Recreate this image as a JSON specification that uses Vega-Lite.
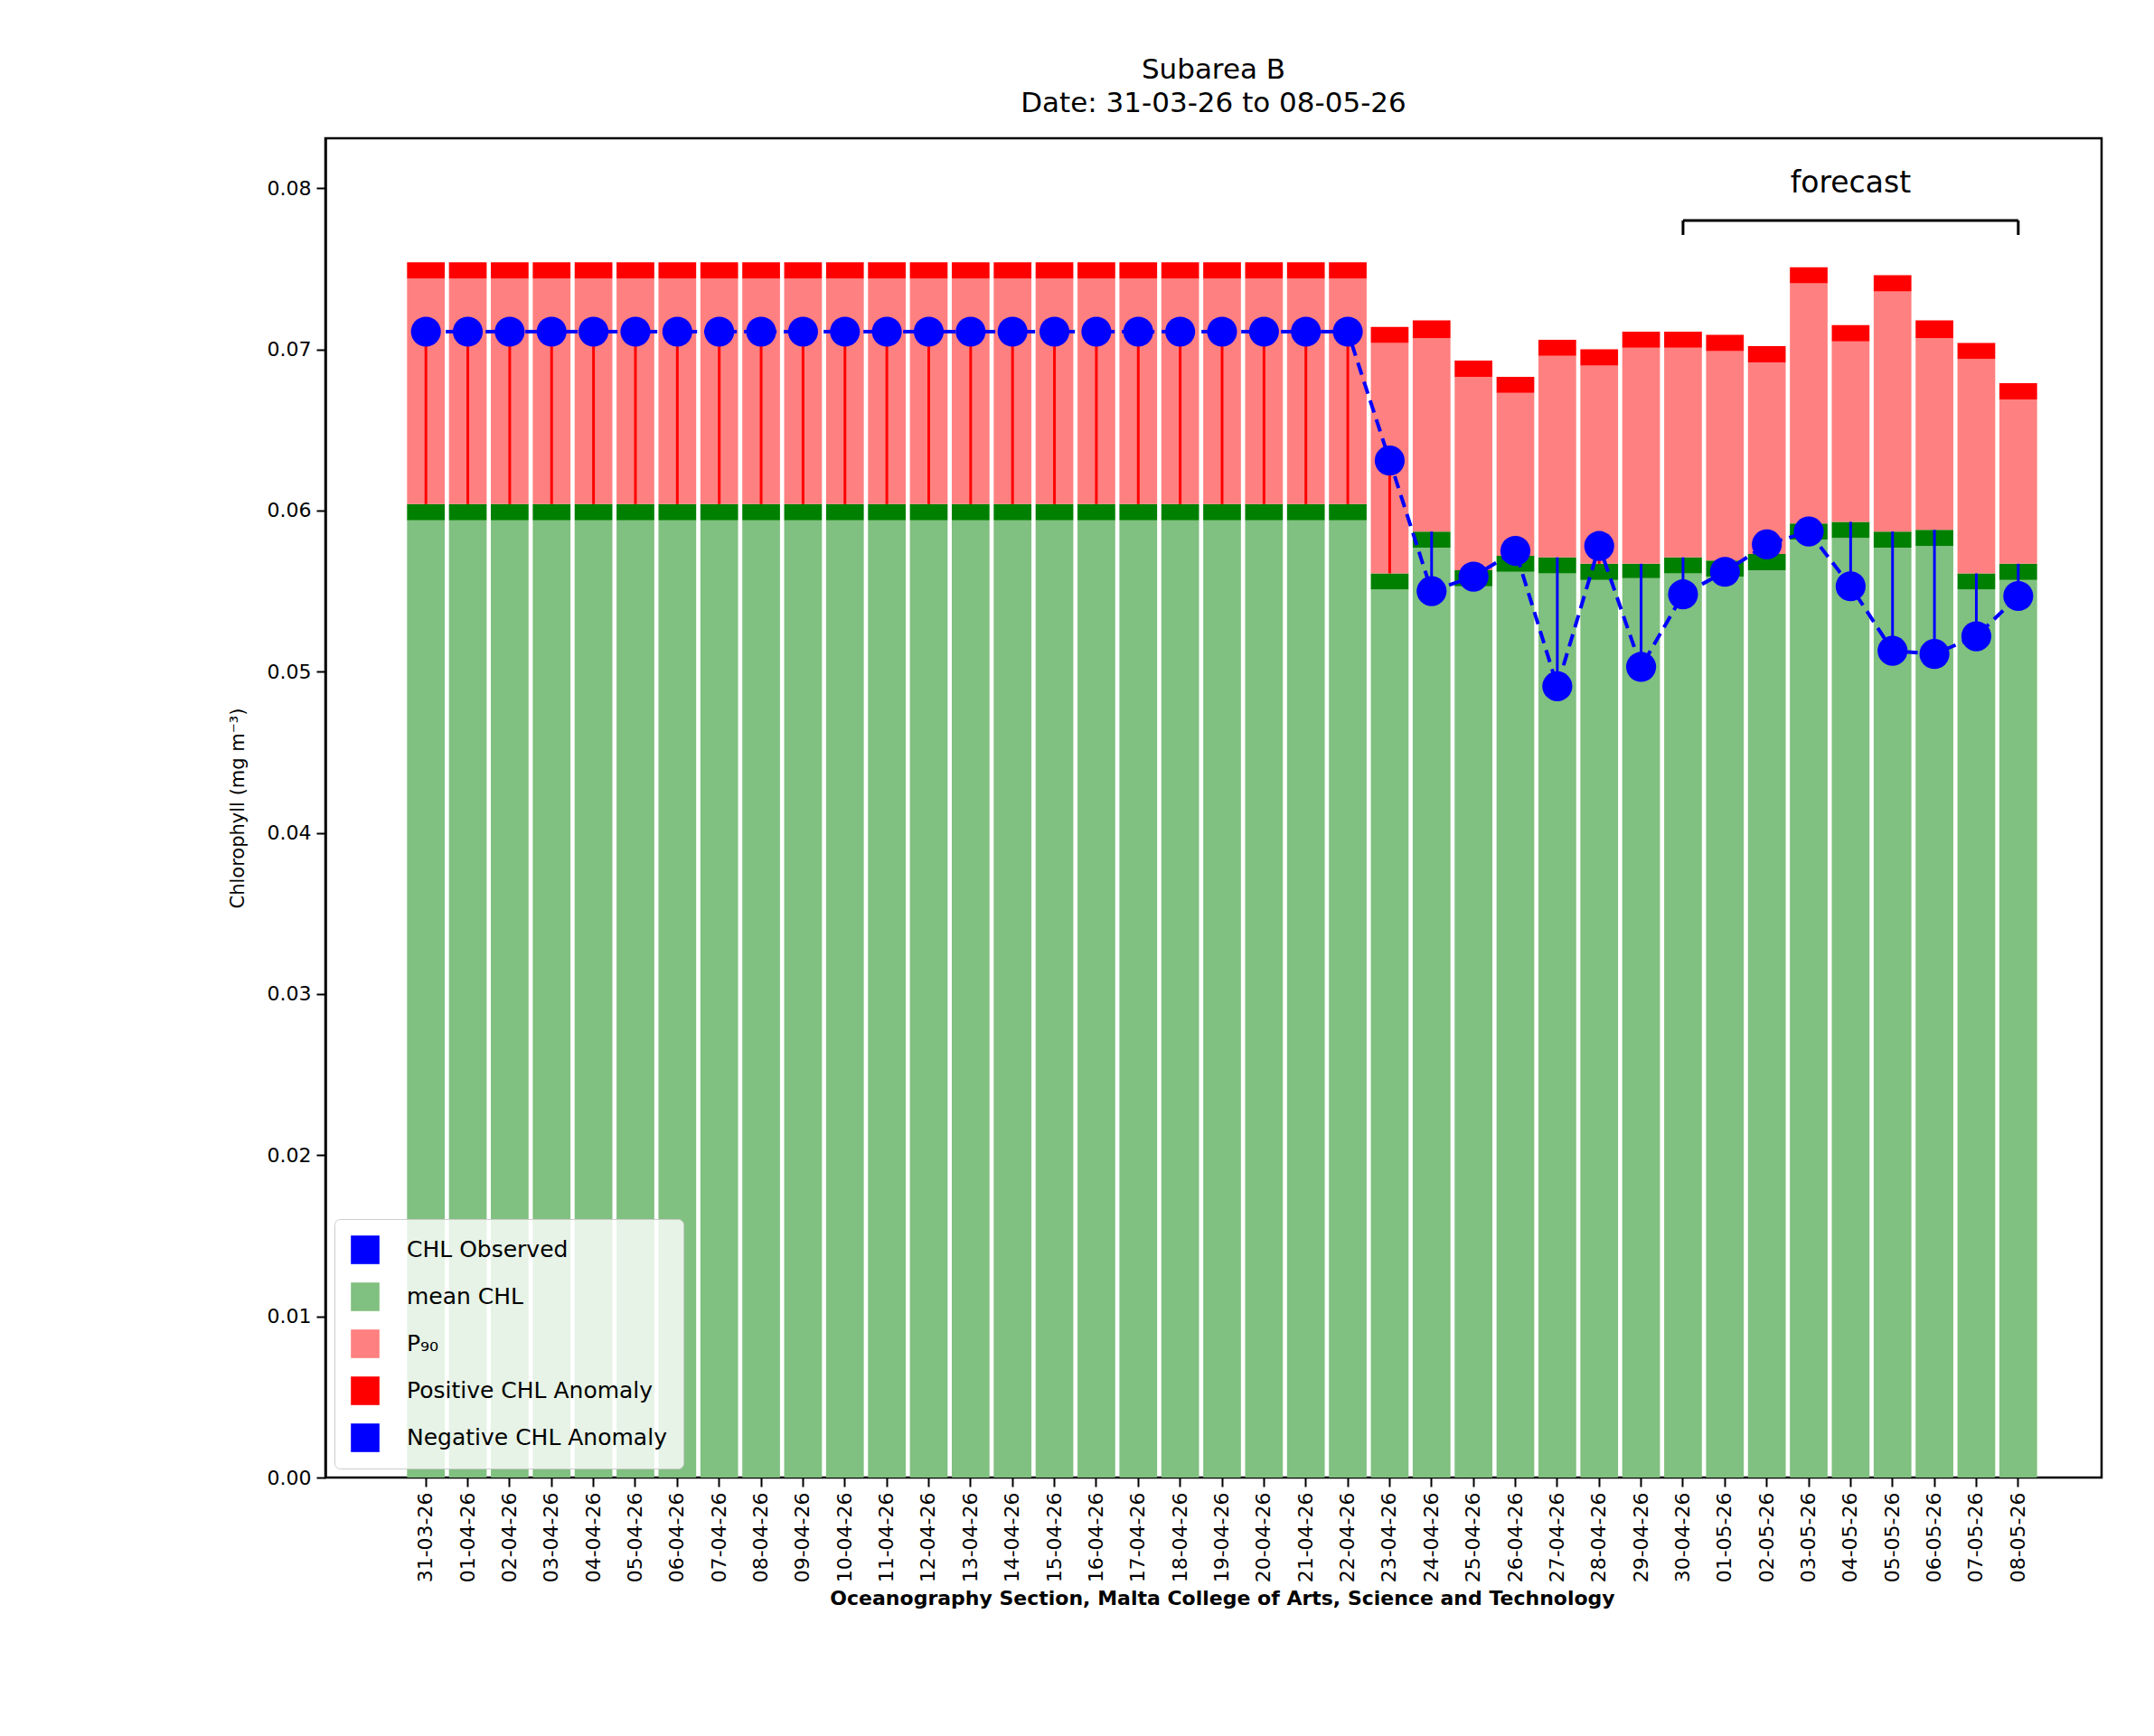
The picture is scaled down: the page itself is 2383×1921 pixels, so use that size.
{
  "$schema": "https://vega.github.io/schema/vega-lite/v6.json",
  "width": 1965,
  "height": 1482,
  "autosize": "none",
  "padding": {"left": 360, "top": 153, "right": 58, "bottom": 286},
  "background": "white",
  "config": {
    "font": "DejaVu Sans",
    "view": {"stroke": "black", "strokeWidth": 2.5},
    "axis": {"grid": false, "domainColor": "black", "domainWidth": 2.5, "tickColor": "black", "tickWidth": 2, "tickSize": 10, "labelColor": "black", "labelFontSize": 22, "titleColor": "black", "labelPadding": 6}
  },
  "title": {"text": "Subarea B", "subtitle": "Date: 31-03-26 to 08-05-26", "fontSize": 31, "subtitleFontSize": 31, "fontWeight": "normal", "color": "black", "subtitleColor": "black", "offset": 22, "subtitlePadding": 6},
  "datasets": {
    "chl": [
      {"d": "31-03-26", "mean": 0.0594, "mh": 0.0604, "p90": 0.0744, "ph": 0.0754, "obs": 0.0711},
      {"d": "01-04-26", "mean": 0.0594, "mh": 0.0604, "p90": 0.0744, "ph": 0.0754, "obs": 0.0711},
      {"d": "02-04-26", "mean": 0.0594, "mh": 0.0604, "p90": 0.0744, "ph": 0.0754, "obs": 0.0711},
      {"d": "03-04-26", "mean": 0.0594, "mh": 0.0604, "p90": 0.0744, "ph": 0.0754, "obs": 0.0711},
      {"d": "04-04-26", "mean": 0.0594, "mh": 0.0604, "p90": 0.0744, "ph": 0.0754, "obs": 0.0711},
      {"d": "05-04-26", "mean": 0.0594, "mh": 0.0604, "p90": 0.0744, "ph": 0.0754, "obs": 0.0711},
      {"d": "06-04-26", "mean": 0.0594, "mh": 0.0604, "p90": 0.0744, "ph": 0.0754, "obs": 0.0711},
      {"d": "07-04-26", "mean": 0.0594, "mh": 0.0604, "p90": 0.0744, "ph": 0.0754, "obs": 0.0711},
      {"d": "08-04-26", "mean": 0.0594, "mh": 0.0604, "p90": 0.0744, "ph": 0.0754, "obs": 0.0711},
      {"d": "09-04-26", "mean": 0.0594, "mh": 0.0604, "p90": 0.0744, "ph": 0.0754, "obs": 0.0711},
      {"d": "10-04-26", "mean": 0.0594, "mh": 0.0604, "p90": 0.0744, "ph": 0.0754, "obs": 0.0711},
      {"d": "11-04-26", "mean": 0.0594, "mh": 0.0604, "p90": 0.0744, "ph": 0.0754, "obs": 0.0711},
      {"d": "12-04-26", "mean": 0.0594, "mh": 0.0604, "p90": 0.0744, "ph": 0.0754, "obs": 0.0711},
      {"d": "13-04-26", "mean": 0.0594, "mh": 0.0604, "p90": 0.0744, "ph": 0.0754, "obs": 0.0711},
      {"d": "14-04-26", "mean": 0.0594, "mh": 0.0604, "p90": 0.0744, "ph": 0.0754, "obs": 0.0711},
      {"d": "15-04-26", "mean": 0.0594, "mh": 0.0604, "p90": 0.0744, "ph": 0.0754, "obs": 0.0711},
      {"d": "16-04-26", "mean": 0.0594, "mh": 0.0604, "p90": 0.0744, "ph": 0.0754, "obs": 0.0711},
      {"d": "17-04-26", "mean": 0.0594, "mh": 0.0604, "p90": 0.0744, "ph": 0.0754, "obs": 0.0711},
      {"d": "18-04-26", "mean": 0.0594, "mh": 0.0604, "p90": 0.0744, "ph": 0.0754, "obs": 0.0711},
      {"d": "19-04-26", "mean": 0.0594, "mh": 0.0604, "p90": 0.0744, "ph": 0.0754, "obs": 0.0711},
      {"d": "20-04-26", "mean": 0.0594, "mh": 0.0604, "p90": 0.0744, "ph": 0.0754, "obs": 0.0711},
      {"d": "21-04-26", "mean": 0.0594, "mh": 0.0604, "p90": 0.0744, "ph": 0.0754, "obs": 0.0711},
      {"d": "22-04-26", "mean": 0.0594, "mh": 0.0604, "p90": 0.0744, "ph": 0.0754, "obs": 0.0711},
      {"d": "23-04-26", "mean": 0.0551, "mh": 0.0561, "p90": 0.0704, "ph": 0.0714, "obs": 0.0631},
      {"d": "24-04-26", "mean": 0.0577, "mh": 0.0587, "p90": 0.0707, "ph": 0.0718, "obs": 0.0550},
      {"d": "25-04-26", "mean": 0.0553, "mh": 0.0563, "p90": 0.0683, "ph": 0.0693, "obs": 0.0559},
      {"d": "26-04-26", "mean": 0.0562, "mh": 0.0572, "p90": 0.0673, "ph": 0.0683, "obs": 0.0575},
      {"d": "27-04-26", "mean": 0.0561, "mh": 0.0571, "p90": 0.0696, "ph": 0.0706, "obs": 0.0491},
      {"d": "28-04-26", "mean": 0.0557, "mh": 0.0567, "p90": 0.0690, "ph": 0.0700, "obs": 0.0578},
      {"d": "29-04-26", "mean": 0.0558, "mh": 0.0567, "p90": 0.0701, "ph": 0.0711, "obs": 0.0503},
      {"d": "30-04-26", "mean": 0.0561, "mh": 0.0571, "p90": 0.0701, "ph": 0.0711, "obs": 0.0548},
      {"d": "01-05-26", "mean": 0.0559, "mh": 0.0569, "p90": 0.0699, "ph": 0.0709, "obs": 0.0562},
      {"d": "02-05-26", "mean": 0.0563, "mh": 0.0573, "p90": 0.0692, "ph": 0.0702, "obs": 0.0579},
      {"d": "03-05-26", "mean": 0.0582, "mh": 0.0592, "p90": 0.0741, "ph": 0.0751, "obs": 0.0587},
      {"d": "04-05-26", "mean": 0.0583, "mh": 0.0593, "p90": 0.0705, "ph": 0.0715, "obs": 0.0553},
      {"d": "05-05-26", "mean": 0.0577, "mh": 0.0587, "p90": 0.0736, "ph": 0.0746, "obs": 0.0513},
      {"d": "06-05-26", "mean": 0.0578, "mh": 0.0588, "p90": 0.0707, "ph": 0.0718, "obs": 0.0511},
      {"d": "07-05-26", "mean": 0.0551, "mh": 0.0561, "p90": 0.0694, "ph": 0.0704, "obs": 0.0522},
      {"d": "08-05-26", "mean": 0.0557, "mh": 0.0567, "p90": 0.0669, "ph": 0.0679, "obs": 0.0547}
    ],
    "bracket": [{"a": "30-04-26", "b": "08-05-26", "y": 0.0780, "y2": 0.0771, "mid": "04-05-26", "ty": 0.0803, "label": "forecast"}]
  },
  "layer": [
    {"data": {"name": "chl"}, "mark": {"type": "bar"},
      "encoding": {
        "x": {"field": "d", "type": "ordinal", "sort": null,
          "scale": {"domain": ["31-03-26","01-04-26","02-04-26","03-04-26","04-04-26","05-04-26","06-04-26","07-04-26","08-04-26","09-04-26","10-04-26","11-04-26","12-04-26","13-04-26","14-04-26","15-04-26","16-04-26","17-04-26","18-04-26","19-04-26","20-04-26","21-04-26","22-04-26","23-04-26","24-04-26","25-04-26","26-04-26","27-04-26","28-04-26","29-04-26","30-04-26","01-05-26","02-05-26","03-05-26","04-05-26","05-05-26","06-05-26","07-05-26","08-05-26"],
            "paddingInner": 0.1, "paddingOuter": 0.05, "range": [88, 1896]},
          "axis": {"title": "Oceanography Section, Malta College of Arts, Science and Technology", "titleFontSize": 22, "titleFontWeight": "bold", "labelAngle": -90, "titlePadding": 8, "domain": false}},
        "y": {"field": "mean", "type": "quantitative", "scale": {"domain": [0, 0.0831], "nice": false},
          "axis": {"title": "Chlorophyll (mg m⁻³)", "titleFontSize": 21, "titleFontWeight": "normal", "format": ".2f", "values": [0, 0.01, 0.02, 0.03, 0.04, 0.05, 0.06, 0.07, 0.08], "titlePadding": 22}},
        "color": {"datum": "mean CHL", "type": "nominal", "scale": {"domain": ["CHL Observed", "mean CHL", "P₉₀", "Positive CHL Anomaly", "Negative CHL Anomaly"], "range": ["#0000ff", "#80c080", "#ff8080", "#ff0000", "#0000ff"]},
          "legend": {"title": null, "orient": "bottom-left", "offset": 10, "symbolType": "square", "symbolSize": 1000, "labelFontSize": 25, "labelLimit": 0, "rowPadding": 20, "padding": 18, "fillColor": "rgba(255,255,255,0.8)", "strokeColor": "#cccccc", "cornerRadius": 6, "labelColor": "black", "symbolStrokeWidth": 0, "labelOffset": 30}}}},
    {"data": {"name": "chl"}, "mark": {"type": "bar", "color": "#008000"},
      "encoding": {"x": {"field": "d", "type": "ordinal", "sort": null}, "y": {"field": "mean", "type": "quantitative"}, "y2": {"field": "mh"}}},
    {"data": {"name": "chl"}, "mark": {"type": "bar"},
      "encoding": {"x": {"field": "d", "type": "ordinal", "sort": null}, "y": {"field": "mh", "type": "quantitative"}, "y2": {"field": "p90"}, "color": {"datum": "P₉₀", "type": "nominal"}}},
    {"data": {"name": "chl"}, "mark": {"type": "bar"},
      "encoding": {"x": {"field": "d", "type": "ordinal", "sort": null}, "y": {"field": "p90", "type": "quantitative"}, "y2": {"field": "ph"}, "color": {"datum": "Positive CHL Anomaly", "type": "nominal"}}},
    {"data": {"name": "chl"}, "mark": {"type": "rule", "strokeWidth": 3},
      "encoding": {"x": {"field": "d", "type": "ordinal", "sort": null}, "y": {"field": "obs", "type": "quantitative"}, "y2": {"field": "mh"},
        "color": {"condition": {"test": "datum.obs > datum.mh", "value": "#ff0000"}, "value": "#0000ff"}}},
    {"data": {"name": "chl"}, "mark": {"type": "line", "color": "#0000ff", "strokeWidth": 4, "strokeDash": [14, 8]},
      "encoding": {"x": {"field": "d", "type": "ordinal", "sort": null}, "y": {"field": "obs", "type": "quantitative"}}},
    {"data": {"name": "chl"}, "mark": {"type": "point", "filled": true, "color": "#0000ff", "opacity": 1, "size": 1100},
      "encoding": {"x": {"field": "d", "type": "ordinal", "sort": null}, "y": {"field": "obs", "type": "quantitative"}}},
    {"data": {"name": "bracket"}, "mark": {"type": "rule", "color": "black", "strokeWidth": 3},
      "encoding": {"x": {"field": "a", "type": "ordinal", "sort": null}, "x2": {"field": "b"}, "y": {"field": "y", "type": "quantitative"}}},
    {"data": {"name": "bracket"}, "mark": {"type": "rule", "color": "black", "strokeWidth": 3},
      "encoding": {"x": {"field": "a", "type": "ordinal", "sort": null}, "y": {"field": "y", "type": "quantitative"}, "y2": {"field": "y2"}}},
    {"data": {"name": "bracket"}, "mark": {"type": "rule", "color": "black", "strokeWidth": 3},
      "encoding": {"x": {"field": "b", "type": "ordinal", "sort": null}, "y": {"field": "y", "type": "quantitative"}, "y2": {"field": "y2"}}},
    {"data": {"name": "bracket"}, "mark": {"type": "text", "fontSize": 33, "color": "black", "baseline": "middle"},
      "encoding": {"x": {"field": "mid", "type": "ordinal", "sort": null}, "y": {"field": "ty", "type": "quantitative"}, "text": {"field": "label"}}}
  ]
}
